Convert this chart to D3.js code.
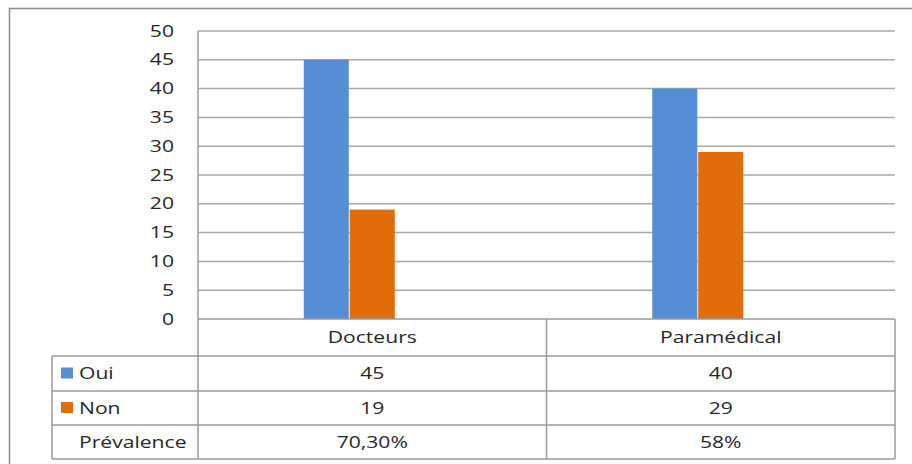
<!DOCTYPE html>
<html>
<head>
<meta charset="utf-8">
<script src="https://cdn.jsdelivr.net/npm/d3@7"></script>
<style>
  body { margin: 0; background: #fff; }
  text { font-family: "Open Sans", sans-serif; fill: #262626; }
</style>
</head>
<body>
<script>
// chart data
const categories = ["Docteurs", "Paramédical"]
const seriesNames = ["Oui", "Non", "Prévalence"]
const oui = [45, 40]
const non = [19, 29]
const prevalence = [0.703, 0.58]
const prevalenceLabels = ["70,30%", "58%"]
const yTicks = [0, 5, 10, 15, 20, 25, 30, 35, 40, 45, 50]

const w = 912
const h = 464
const colors = { "Oui": "#558ed5", "Non": "#e36c0a", "Prévalence": "none" }
const sx = 1.32   // the picture is stretched sideways
const fs = 16

const svg = d3.select("body").append("svg")
  .attr("width", w)
  .attr("height", h)

// outer frame (right and bottom edges are cut off in the picture)
svg.append("path")
  .attr("d", "M9.5," + h + " V8.5 H" + w)
  .attr("fill", "none")
  .attr("stroke", "#8c8c8c")
  .attr("stroke-width", 1.5)

const plotLeft = 198, plotRight = 895, plotTop = 31, plotBottom = 319
const tableLeft = 52
const rowLines = [319, 356, 391, 425, 459]

const x = d3.scaleBand().domain(categories).range([plotLeft, plotRight])
const xSub = d3.scaleBand().domain(seriesNames)
  .range([0, x.bandwidth()])
  .paddingInner(0.02)
  .paddingOuter(2.3)
const y = d3.scaleLinear().domain([0, 50]).range([plotBottom, plotTop])

function label(g, tx, ty, str, anchor) {
  g.append("text")
    .attr("transform", "translate(" + tx + "," + ty + ") scale(" + sx + ",1)")
    .attr("text-anchor", anchor || "middle")
    .attr("dy", "0.35em")
    .attr("font-size", fs)
    .text(str)
}

// gridlines
svg.append("g").selectAll("line")
  .data(yTicks.filter(d => d > 0))
  .enter().append("line")
  .attr("x1", plotLeft).attr("x2", plotRight)
  .attr("y1", d => y(d)).attr("y2", d => y(d))
  .attr("stroke", "#a8a8a8")
  .attr("stroke-width", 1.5)

// y tick labels
const yg = svg.append("g")
yTicks.forEach(t => label(yg, 174, y(t), t, "end"))

// bars
const rows = categories.map((c, i) => ({ cat: c, values: [oui[i], non[i], prevalence[i]] }))
svg.append("g").selectAll("g")
  .data(rows)
  .enter().append("g")
  .attr("transform", d => "translate(" + x(d.cat) + ",0)")
  .selectAll("rect")
  .data(d => d.values.map((v, j) => ({ key: seriesNames[j], value: v })))
  .enter().append("rect")
  .attr("x", d => xSub(d.key))
  .attr("width", xSub.bandwidth())
  .attr("y", d => y(d.value))
  .attr("height", d => y(0) - y(d.value))
  .attr("fill", d => colors[d.key])

// data table
const tg = svg.append("g")
const lineColor = "#9a9a9a"
rowLines.forEach((ly, i) => {
  tg.append("line")
    .attr("x1", i === 0 ? plotLeft : tableLeft).attr("x2", plotRight)
    .attr("y1", ly).attr("y2", ly)
    .attr("stroke", lineColor).attr("stroke-width", 1.5)
})
const vx = [tableLeft, plotLeft, x(categories[1]), plotRight]
vx.forEach((lx, i) => {
  tg.append("line")
    .attr("x1", lx).attr("x2", lx)
    .attr("y1", i === 0 ? rowLines[1] : (i === 1 ? plotTop : rowLines[0]))
    .attr("y2", rowLines[4])
    .attr("stroke", lineColor).attr("stroke-width", 1.5)
})

const mid = i => (rowLines[i] + rowLines[i + 1]) / 2
categories.forEach((c, i) => {
  const cx = x(c) + x.bandwidth() / 2
  label(tg, cx, mid(0), c)
  label(tg, cx, mid(1), oui[i])
  label(tg, cx, mid(2), non[i])
  label(tg, cx, mid(3), prevalenceLabels[i])
})

// legend keys in the row headers
seriesNames.forEach((s, j) => {
  const cy = mid(j + 1)
  if (colors[s] !== "none") {
    tg.append("rect")
      .attr("x", 61).attr("y", cy - 6)
      .attr("width", 12).attr("height", 11)
      .attr("fill", colors[s])
  }
  label(tg, 79, cy, s, "start")
})
</script>
</body>
</html>
